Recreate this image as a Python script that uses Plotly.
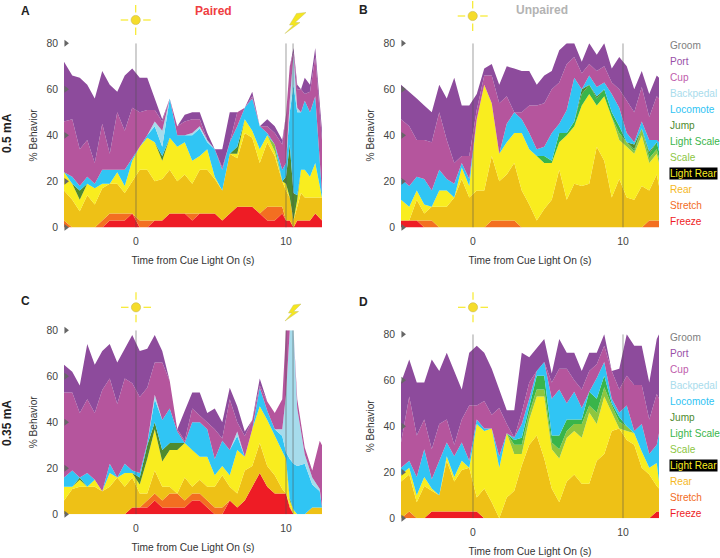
import plotly.graph_objects as go

W, H = 720, 558

behaviors = ["Freeze", "Stretch", "Rear", "Light Rear", "Scale", "Light Scale", "Jump", "Locomote", "Backpedal", "Cup", "Port"]
fill_colors = ["#ee1c25", "#f36f21", "#eec116", "#f9ed1f", "#8dc63f", "#39b54a", "#4f8a2f", "#30c5f4", "#a6dcec", "#b5559d", "#8d4b9c"]
legend_labels = ["Groom", "Port", "Cup", "Backpedal", "Locomote", "Jump", "Light Scale", "Scale", "Light Rear", "Rear", "Stretch", "Freeze"]
legend_colors = ["#808080", "#9a4fa8", "#c05cab", "#a9dcec", "#2fc3f3", "#4e8a2e", "#39b54a", "#8dc63f", "#f9ed20", "#f5b81f", "#f26c25", "#ee1c25"]
x_ticks = [0, 10]
y_ticks = [0, 20, 40, 60, 80]

t_A = [-4.8,-4.25,-3.75,-3.25,-2.75,-2.25,-1.75,-1.25,-0.75,-0.25,0.25,0.75,1.25,1.75,2.25,2.75,3.25,3.75,4.25,4.75,5.25,5.75,6.25,6.75,7.25,7.75,8.25,8.75,9.25,9.75,10.0,10.25,10.5,10.75,11.0,11.25,11.6,11.95,12.4]
t_C = [-4.8,-4.25,-3.75,-3.25,-2.75,-2.25,-1.75,-1.25,-0.75,-0.25,0.25,0.75,1.25,1.75,2.25,2.75,3.25,3.75,4.25,4.75,5.25,5.75,6.25,6.75,7.25,7.75,8.25,8.75,9.25,9.75,10.0,10.25,10.5,10.75,11.25,11.75,12.25,12.4]
t_BD = [-4.8,-4.25,-3.75,-3.25,-2.75,-2.25,-1.75,-1.25,-0.75,-0.25,0.25,0.75,1.25,1.75,2.25,2.75,3.25,3.75,4.25,4.75,5.25,5.75,6.25,6.75,7.25,7.75,8.25,8.75,9.25,9.75,10.25,10.75,11.25,11.75,12.25,12.4]

# Upper edge of each stacked band (% behavior)
A_freeze = [0,0,0,0,0,0,3,3,3,6, 0,0,3,3,6,6,6,3,6,6, 6,3,6,9,9,9,6,3,3,6, 3,3,0,3,3,3,3,6,3]
A_stretch = [3,0,0,0,0,3,6,6,6,6, 3,3,3,3,6,6,6,6,6,6, 6,3,6,9,9,9,6,9,9,9, 3,3,0,3,3,3,3,6,3]
A_rear = [16,12,7,14,10,17,19,19,15,20, 25,25,20,21,25,20,23,19,25,25, 21,16,32,30,41,39,28,37,31,20, 16,13,3,9,15,13,13,13,13]
A_lrear = [24,19,12,19,17,19,19,24,18,29, 35,39,37,29,39,35,37,29,31,34, 22,16,32,32,47,42,34,40,33,20, 19,13,3,12,25,25,22,28,13]
A_scale = [24,19,12,19,17,19,19,24,18,29, 35,39,37,29,39,35,37,29,31,34, 22,16,32,32,47,42,34,40,36,20, 19,13,3,12,25,25,22,28,13]
A_lscale = [24,19,12,19,17,19,19,24,18,29, 35,39,37,29,39,35,37,29,31,34, 22,16,32,32,47,42,34,40,36,20, 19,13,3,12,25,25,22,28,13]
A_jump = [24,19,16,19,17,19,19,24,18,29, 35,39,37,31,39,35,37,29,31,34, 22,16,32,35,47,42,34,40,36,20, 22,36,15,14,25,25,22,28,13]
A_loco = [24,22,18,22,19,25,25,25,25,30, 35,40,44,35,56,40,40,40,43,37, 34,25,37,44,52,56,44,41,34,25, 28,50,62,50,50,55,50,57,15]
A_back = [24,22,18,22,19,25,25,25,25,30, 35,40,46,42,56,40,40,41,44,38, 34,25,37,44,52,56,44,41,34,25, 28,55,75,52,50,55,50,57,15]
A_cup = [46,47,34,38,28,45,32,50,42,52, 50,51,51,46,56,44,46,47,47,38, 34,26,37,50,52,57,44,44,41,36, 49,70,76,60,60,58,59,74,38]
A_port = [72,66,65,62,56,68,62,59,66,69, 65,65,56,47,56,44,49,50,50,41, 31,34,50,44,52,59,44,47,44,38, 48,62,78,62,50,65,62,78,42]

B_freeze = [3,3,3,0,0,0,0,0,0,0, 0,0,0,0,0,0,0,0,0,0, 0,0,0,0,0,0,0,0,0,0, 0,0,0,0,0,0]
B_stretch = [3,3,3,3,3,0,0,0,0,0, 0,0,3,3,3,3,0,0,0,0, 0,0,0,0,0,0,0,0,0,0, 0,0,0,3,3,3]
B_rear = [3,3,12,6,9,9,9,13,21,13, 16,16,31,20,23,28,16,10,3,8, 12,25,12,19,18,19,35,29,13,21, 13,12,18,16,23,18]
B_lrear = [12,9,16,10,9,16,16,13,26,18, 47,62,54,32,37,41,41,34,31,28, 28,37,40,44,53,58,53,57,48,38, 35,32,40,28,32,28]
B_scale = [12,9,16,10,9,16,16,13,26,18, 47,62,54,32,37,41,41,34,31,28, 28,37,40,44,53,58,53,57,48,41, 37,33,43,30,34,30]
B_lscale = [12,9,16,10,9,16,16,13,26,18, 47,62,54,32,37,41,41,34,31,31, 29,41,41,46,58,62,56,60,50,44, 37,34,43,32,37,33]
B_jump = [12,9,16,10,9,16,16,13,26,18, 47,62,54,32,37,41,41,34,31,31, 29,41,41,46,60,62,57,60,50,44, 37,36,43,33,37,33]
B_loco = [21,18,22,21,16,25,21,19,28,21, 42,62,54,32,45,50,47,41,34,35, 41,45,51,65,60,66,61,63,58,52, 41,37,46,38,38,37]
B_back = [21,18,22,21,16,25,21,19,28,21, 42,62,54,32,45,50,47,41,34,35, 41,45,51,65,60,66,61,63,58,52, 41,37,46,38,38,37]
B_cup = [47,44,38,38,37,50,38,28,31,31, 51,66,66,54,57,50,50,53,53,54, 60,63,71,74,67,71,68,70,63,60, 55,50,61,48,57,56]
B_port = [62,59,56,53,50,62,56,65,53,53, 58,69,71,62,70,69,68,68,62,66, 68,77,80,80,72,80,75,80,69,74, 70,60,68,58,66,65]

C_freeze = [0,0,0,0,0,0,0,0,0,3, 3,3,6,3,3,3,3,6,6,3, 0,0,6,3,6,12,18,12,9,9, 9,3,0,0,0,0,0,0]
C_stretch = [0,0,0,0,0,0,0,0,0,3, 3,6,9,6,9,9,6,9,9,6, 3,3,6,3,6,12,18,12,9,9, 9,3,0,0,0,0,0,0]
C_rear = [6,11,12,12,12,10,12,16,12,16, 9,9,19,12,12,9,16,12,15,12, 12,17,12,9,19,21,31,21,17,11, 9,4,0,0,0,3,3,3]
C_lrear = [12,12,15,12,15,10,18,15,18,18, 13,24,37,23,28,28,31,28,25,25, 17,21,17,28,25,37,47,41,34,27, 24,6,2,0,0,3,3,3]
C_scale = [12,12,15,12,15,10,18,15,18,18, 13,24,37,23,28,28,31,28,25,25, 17,21,17,28,25,37,47,41,34,27, 24,6,2,0,0,3,3,3]
C_lscale = [12,12,15,12,15,10,18,15,18,18, 13,24,37,23,28,28,31,28,25,25, 17,21,17,28,25,37,47,41,34,27, 24,6,2,0,0,3,3,3]
C_jump = [12,12,16,12,15,10,18,16,18,18, 16,30,40,28,31,31,31,28,25,25, 17,21,17,28,25,37,47,41,34,27, 24,7,2,0,0,3,3,3]
C_loco = [16,19,15,18,13,10,22,16,22,19, 18,31,50,41,46,36,31,40,40,37, 24,32,28,34,25,37,55,45,37,34, 27,24,22,21,22,13,10,3]
C_back = [16,19,15,18,13,10,22,16,22,19, 18,31,52,41,46,36,31,40,40,37, 24,32,28,36,25,37,55,45,37,37, 52,80,80,46,26,16,11,3]
C_cup = [53,53,44,50,44,54,59,48,59,57, 51,55,66,66,58,37,32,46,43,40, 37,33,50,40,34,41,56,49,44,50, 80,80,80,50,29,19,32,30]
C_port = [65,62,56,74,65,71,74,66,72,78, 71,72,78,71,58,37,45,53,53,44, 46,40,55,47,36,41,59,49,44,50, 80,80,80,50,29,19,32,30]

D_freeze = [0,0,0,0,3,3,3,3,3,3, 3,0,0,0,0,0,0,0,0,0, 0,0,0,0,0,0,0,0,0,0, 0,0,0,0,3,3]
D_stretch = [0,3,0,0,3,3,3,3,3,3, 3,0,0,0,0,0,0,0,0,0, 0,0,0,0,0,0,0,0,0,0, 0,0,0,0,3,3]
D_rear = [16,19,7,14,12,10,25,16,21,22, 9,13,7,0,9,12,23,32,36,26, 13,7,16,19,15,15,25,28,38,39, 34,32,22,19,14,13]
D_lrear = [19,22,10,18,13,10,27,18,25,22, 41,38,39,22,37,28,28,43,53,53, 30,26,35,38,35,46,41,53,46,39, 38,37,29,22,24,16]
D_scale = [19,22,10,18,13,10,27,18,25,22, 41,38,39,22,37,32,32,46,56,56, 33,30,38,41,41,49,46,57,49,42, 40,37,29,22,24,16]
D_lscale = [19,22,10,18,13,10,27,18,25,22, 41,38,39,22,37,34,35,48,62,62, 36,36,43,43,43,55,52,62,50,44, 40,37,29,22,24,16]
D_jump = [19,22,10,18,13,10,27,18,25,22, 41,38,39,22,37,34,35,48,62,62, 36,36,43,43,43,55,52,62,50,44, 40,37,29,22,24,16]
D_loco = [22,25,18,30,17,25,33,27,33,25, 43,39,38,27,37,35,41,52,64,68, 52,56,50,55,48,50,61,68,52,46, 49,38,41,28,32,37]
D_back = [22,25,18,30,17,25,33,27,33,25, 43,39,38,27,37,35,41,52,64,68, 52,56,50,55,48,50,61,68,52,46, 49,38,41,28,32,37]
D_cup = [33,53,36,43,30,41,43,32,43,49, 49,51,45,48,41,35,46,59,62,68, 59,65,65,60,56,64,67,75,64,56, 62,58,58,43,54,52]
D_port = [59,69,59,59,69,64,72,64,56,72, 75,72,65,56,47,47,72,70,74,78, 63,78,72,72,64,72,72,80,62,65, 80,75,75,59,78,80]

panels = [
    dict(key="", t=t_A, tops=[A_freeze,A_stretch,A_rear,A_lrear,A_scale,A_lscale,A_jump,A_loco,A_back,A_cup,A_port],
         left=64, right=322, top=43.3, bottom=227.4, vlines=[0,10,10.47]),
    dict(key="2", t=t_BD, tops=[B_freeze,B_stretch,B_rear,B_lrear,B_scale,B_lscale,B_jump,B_loco,B_back,B_cup,B_port],
         left=401, right=659, top=43.3, bottom=227.4, vlines=[0,10]),
    dict(key="3", t=t_C, tops=[C_freeze,C_stretch,C_rear,C_lrear,C_scale,C_lscale,C_jump,C_loco,C_back,C_cup,C_port],
         left=64, right=322, top=330.3, bottom=514.3, vlines=[0,10,10.47]),
    dict(key="4", t=t_BD, tops=[D_freeze,D_stretch,D_rear,D_lrear,D_scale,D_lscale,D_jump,D_loco,D_back,D_cup,D_port],
         left=401, right=659, top=334.3, bottom=518.3, vlines=[0,10]),
]

def px(x): return x / W
def py(y): return 1 - y / H

FONT = "Liberation Sans"
fig = go.Figure()
shapes, annots = [], []
layout = {}

for p in panels:
    k = p["key"]
    xa, ya = "x" + k, "y" + k
    running = [0] * len(p["t"])
    for i, top in enumerate(p["tops"]):
        running = [max(a, b) for a, b in zip(running, top)]
        fig.add_trace(go.Scatter(x=p["t"], y=running, mode="lines", name=behaviors[i], xaxis=xa, yaxis=ya,
                                 line=dict(width=0, color=fill_colors[i]), fillcolor=fill_colors[i],
                                 fill="tozeroy" if i == 0 else "tonexty", hoverinfo="skip", showlegend=False))
    fig.add_trace(go.Scatter(x=[-4.67] * len(y_ticks), y=y_ticks, mode="markers", xaxis=xa, yaxis=ya, cliponaxis=False,
                             marker=dict(symbol="triangle-right", size=6, color="#666666"), hoverinfo="skip", showlegend=False))
    layout["xaxis" + k] = dict(domain=[px(p["left"]), px(p["right"])], range=[-4.8, 12.4], anchor=ya, tickvals=x_ticks,
                               showgrid=False, zeroline=False, showline=False, ticks="", ticklabelstandoff=6, automargin=False,
                               tickfont=dict(family=FONT, size=10.4, color="#444444"),
                               title=dict(text="Time from Cue Light On (s)", standoff=11, font=dict(family=FONT, size=10.2, color="#333333")))
    layout["yaxis" + k] = dict(domain=[py(p["bottom"]), py(p["top"])], range=[0, 80], anchor=xa, tickvals=y_ticks,
                               showgrid=False, zeroline=False, showline=False, ticks="", ticklabelstandoff=5, automargin=False,
                               tickfont=dict(family=FONT, size=10.4, color="#444444"),
                               title=dict(text="% Behavior", standoff=6, font=dict(family=FONT, size=10.2, color="#333333")))
    for v in p["vlines"]:
        shapes.append(dict(type="line", xref=xa, yref=ya, x0=v, x1=v, y0=0, y1=80, layer="above",
                           line=dict(color="rgba(80,80,80,0.45)", width=1.2)))

def sun(cx, cy):
    for dx, dy in [(1, 0), (-1, 0), (0, 1), (0, -1)]:
        shapes.append(dict(type="line", xref="paper", yref="paper", x0=px(cx + 7.5 * dx), x1=px(cx + 15 * dx),
                           y0=py(cy + 7.5 * dy), y1=py(cy + 15 * dy), line=dict(color="#f7e92a", width=1.2)))
    shapes.append(dict(type="circle", xref="paper", yref="paper", x0=px(cx - 4.6), x1=px(cx + 4.6), y0=py(cy - 4.6), y1=py(cy + 4.6),
                       fillcolor="#f5dc2b", line=dict(color="#c9b84a", width=0.6)))

sun(135.7, 20)
sun(472.7, 16)
sun(136, 307.3)
sun(473, 307.3)

def bolt(points):
    d = "M " + " L ".join(f"{px(x)} {py(y)}" for x, y in points) + " Z"
    shapes.append(dict(type="path", xref="paper", yref="paper", path=d, fillcolor="#f5e61f", line=dict(color="#c9c56a", width=0.5)))

bolt([(306, 12.5), (296.5, 13.5), (289.5, 25), (293.5, 25), (285, 33.5), (300, 22.5), (295, 22.5)])
bolt([(301, 304), (293.5, 305), (288.5, 313), (292, 313), (285, 321), (298.5, 311.5), (293.5, 311.5)])

def text(x, y, s, size=10.2, color="#333333", bold=False, anchor="center", angle=0, bg=None):
    annots.append(dict(x=px(x), y=py(y), xref="paper", yref="paper", text=f"<b>{s}</b>" if bold else s, showarrow=False,
                       xanchor=anchor, yanchor="middle", textangle=angle, bgcolor=bg, borderpad=0,
                       font=dict(family=FONT, size=size, color=color)))

text(25, 11, "A", 12, "#222222", True)
text(363, 10, "B", 12, "#222222", True)
text(25, 301, "C", 12, "#222222", True)
text(363, 302, "D", 12, "#222222", True)
text(213, 11, "Paired", 12, "#ef3e42", True)
text(542, 10, "Unpaired", 12, "#b3b3b3", True)
text(7, 133, "0.5 mA", 12, "#222222", True, angle=-90)
text(7, 423, "0.35 mA", 12, "#222222", True, angle=-90)

for base in (45, 337):
    for i, (lab, col) in enumerate(zip(legend_labels, legend_colors)):
        text(669, base + 16.05 * i, lab, 10.1, col, anchor="left", bg="#000000" if lab == "Light Rear" else None)

fig.update_layout(width=W, height=H, margin=dict(l=0, r=0, t=0, b=0), paper_bgcolor="white", plot_bgcolor="white",
                  showlegend=False, shapes=shapes, annotations=annots, **layout)
fig.write_html("out.html", post_script="document.body.style.margin='0';", config=dict(displayModeBar=False))
